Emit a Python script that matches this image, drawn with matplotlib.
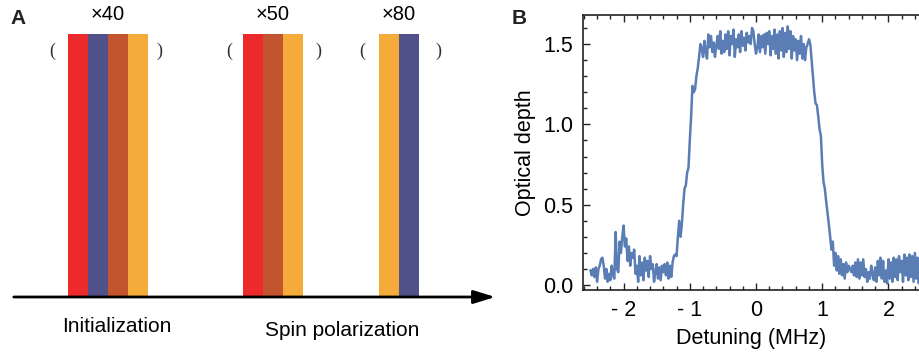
import numpy as np
import matplotlib
matplotlib.use('Agg')
import matplotlib.pyplot as plt
from matplotlib.ticker import MultipleLocator

plt.rcParams['font.family'] = ['Liberation Sans', 'DejaVu Sans']

# panel A: pulse sequence
group_labels = ['×40', '×50', '×80']
group_colors = [
    ['#ec2a2b', '#4f5188', '#c2552e', '#f5ab3a'],
    ['#ec2a2b', '#c2552e', '#f5ab3a'],
    ['#f5ab3a', '#4f5188'],
]
stage_labels = ['Initialization', 'Spin polarization']

# panel B: optical depth vs detuning (MHz)
det_start, det_step = -2.5, 0.02
od = [
    0.09, 0.06, 0.10, 0.05, 0.11, 0.02, 0.10, 0.12, 0.16, 0.17,
    0.12, 0.04, 0.10, 0.02, 0.07, 0.03, 0.12, 0.06, 0.04, 0.33,
    0.10, 0.08, 0.27, 0.20, 0.30, 0.37, 0.24, 0.29, 0.15, 0.24,
    0.12, 0.20, 0.17, 0.22, 0.07, 0.12, 0.02, 0.18, 0.06, 0.14,
    0.03, 0.17, 0.09, 0.15, 0.05, 0.18, 0.10, 0.13, 0.02, 0.08,
    0.13, 0.04, 0.11, 0.03, 0.12, 0.08, 0.13, 0.06, 0.14, 0.04,
    0.12, 0.05, 0.14, 0.18, 0.19, 0.18, 0.30, 0.40, 0.30, 0.38,
    0.50, 0.60, 0.62, 0.70, 0.73, 0.90, 1.05, 1.24, 1.20, 1.22,
    1.30, 1.35, 1.42, 1.50, 1.47, 1.42, 1.52, 1.45, 1.41, 1.56,
    1.48, 1.55, 1.45, 1.51, 1.42, 1.49, 1.55, 1.47, 1.58, 1.44,
    1.52, 1.45, 1.56, 1.47, 1.58, 1.43, 1.55, 1.50, 1.59, 1.42,
    1.53, 1.48, 1.56, 1.45, 1.58, 1.49, 1.54, 1.46, 1.57, 1.51,
    1.55, 1.50, 1.60, 1.58, 1.50, 1.44, 1.48, 1.56, 1.45, 1.55,
    1.48, 1.56, 1.44, 1.57, 1.50, 1.58, 1.43, 1.55, 1.47, 1.59,
    1.44, 1.56, 1.41, 1.58, 1.46, 1.60, 1.42, 1.57, 1.45, 1.61,
    1.47, 1.58, 1.41, 1.55, 1.46, 1.53, 1.40, 1.52, 1.44, 1.55,
    1.41, 1.50, 1.40, 1.48, 1.50, 1.53, 1.50, 1.40, 1.30, 1.20,
    1.13, 1.12, 1.05, 0.97, 0.93, 0.75, 0.64, 0.60, 0.52, 0.45,
    0.38, 0.30, 0.22, 0.27, 0.12, 0.20, 0.09, 0.18, 0.07, 0.16,
    0.06, 0.13, 0.04, 0.14, 0.08, 0.12, 0.10, 0.08, 0.12, 0.06,
    0.14, 0.05, 0.16, 0.04, 0.14, 0.06, 0.16, 0.05, 0.10, 0.02,
    0.08, 0.04, 0.12, 0.07, 0.03, 0.11, 0.02, 0.15, 0.06, 0.17,
    0.04, 0.15, 0.02, 0.09, 0.01, 0.16, 0.04, 0.14, 0.02, 0.17,
    0.05, 0.16, 0.03, 0.18, 0.08, 0.15, 0.02, 0.19, 0.06, 0.17,
    0.03, 0.19, 0.05, 0.18, 0.02, 0.20, 0.04, 0.17, 0.01, 0.18,
]
detuning = det_start + det_step * np.arange(len(od))
x_ticks = [-2, -1, 0, 1, 2]
x_ticklabels = ['- 2', '- 1', '0', '1', '2']
y_ticks = [0.0, 0.5, 1.0, 1.5]

W, H = 920, 358
fig = plt.figure(figsize=(W / 100, H / 100), dpi=100)

# ---- panel A (pixel-like coordinates) ----
axA = fig.add_axes([0, 0, 500 / W, 1])
axA.set_xlim(0, 500)
axA.set_ylim(H, 0)
axA.axis('off')

bar_w = 20
group_left = [68, 243, 379]
paren_pos = [(52, 159), (229, 318), (362, 438)]
for left, colors, lab, (pl, pr) in zip(group_left, group_colors, group_labels, paren_pos):
    xs = left + bar_w * np.arange(len(colors))
    axA.bar(xs, 296 - 34, bottom=34, width=bar_w, align='edge', color=colors, linewidth=0)
    cx = left + bar_w * len(colors) / 2
    axA.text(cx, 14, lab, ha='center', va='center', fontsize=14.5)
    axA.text(pl, 51, '(', ha='center', va='center', fontsize=13, family='Liberation Serif', color='#333333')
    axA.text(pr, 51, ')', ha='center', va='center', fontsize=13, family='Liberation Serif', color='#333333')

axA.annotate('', xy=(498, 297), xytext=(11, 297),
             arrowprops=dict(arrowstyle='-|>,head_length=1.3,head_width=0.4', color='black', lw=2))
axA.text(117, 327, stage_labels[0], ha='center', va='center', fontsize=15)
axA.text(342, 331, stage_labels[1], ha='center', va='center', fontsize=15)
axA.text(10, 18, 'A', ha='left', va='center', fontsize=15, fontweight='bold', color='#222222')

# ---- panel B ----
axB = fig.add_axes([583 / W, 1 - 290 / H, (W - 583) / W, 275 / H])
axB.plot(detuning, od, color='#5a7db5', lw=1.8)
axB.set_xlim(-2.613, 2.477)
axB.set_ylim(-0.031, 1.681)
axB.set_xticks(x_ticks)
axB.set_xticklabels(x_ticklabels)
axB.set_yticks(y_ticks)
axB.set_yticklabels([f'{v:.1f}' for v in y_ticks])
axB.xaxis.set_minor_locator(MultipleLocator(0.2))
axB.yaxis.set_minor_locator(MultipleLocator(0.1))
axB.tick_params(which='both', direction='in', top=True, right=False, labelsize=15.5, color='#222222', width=1)
axB.tick_params(which='major', length=5, pad=7)
axB.tick_params(which='minor', length=3)
axB.spines['right'].set_visible(False)
for s in ['left', 'bottom', 'top']:
    axB.spines[s].set_linewidth(1.2)
    axB.spines[s].set_color('#222222')
axB.set_xlabel('Detuning (MHz)', fontsize=15.5, labelpad=5)
axB.set_ylabel('Optical depth', fontsize=15.5, labelpad=5)
fig.text(512 / W, 1 - 18 / H, 'B', ha='left', va='center', fontsize=15, fontweight='bold', color='#222222')

fig.savefig('out.png', dpi=100)
